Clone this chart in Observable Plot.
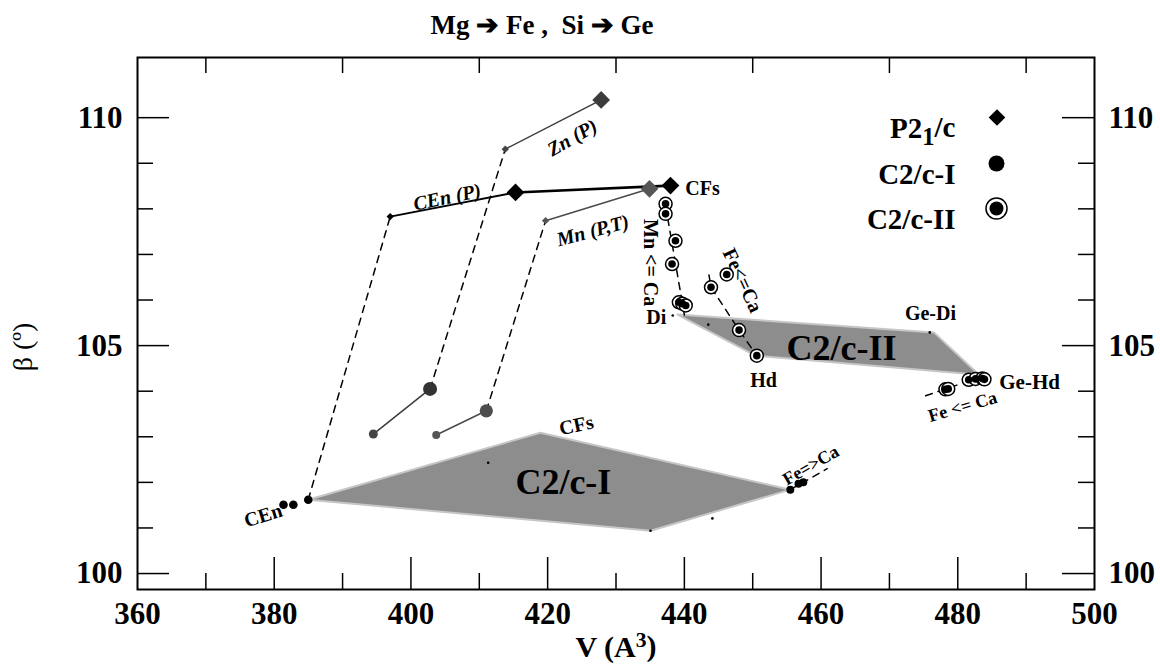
<!DOCTYPE html>
<html>
<head>
<meta charset="utf-8">
<script src="https://cdn.jsdelivr.net/npm/d3@7"></script>
<script src="https://cdn.jsdelivr.net/npm/@observablehq/plot@0.6"></script>
<style>
  html, body { margin: 0; padding: 0; background: #fff; }
  #title {
    width: 1084px; height: 45px; box-sizing: border-box; padding-top: 12px;
    text-align: center; white-space: pre;
    font: bold 27px "Liberation Serif", "Times New Roman", serif; line-height: 27px;
  }
</style>
</head>
<body>
<div id="title">Mg ➔ Fe ,  Si ➔ Ge</div>
<div id="chart"></div>
<script>
// ---- axes -------------------------------------------------------------
const xTicks = [360, 380, 400, 420, 440, 460, 480, 500];
const xMajor = [380, 400, 420, 440, 460, 480];
const xMinor = [370, 390, 410, 430, 450, 470, 490];
const yTicks = [100, 105, 110];
const yMinor = [101, 102, 103, 104, 106, 107, 108, 109];
const xTitle = "V (A³)";
const yTitle = "β (º)";

// ---- P2₁/c (diamonds): cell volume V (Å³) and β (°) ------------------
const cenPathV = [396.97, 415.3, 437.97];
const cenPathBeta = [107.83, 108.36, 108.51];
const znPathV = [413.8, 427.83];
const znPathBeta = [109.31, 110.39];
const mnPathV = [419.7, 434.9];
const mnPathBeta = [107.74, 108.44];

// ---- C2/c-I (filled circles) -------------------------------------------
const cenIV = [381.36, 382.8, 384.98];
const cenIBeta = [101.51, 101.51, 101.62];
const znIV = [394.5, 402.8];
const znIBeta = [103.06, 104.05];
const mnIV = [403.7, 411.03];
const mnIBeta = [103.04, 103.57];
const feIV = [455.5, 456.7, 457.4];
const feIBeta = [101.84, 101.97, 102.0];

// ---- C2/c-II (ringed circles) ------------------------------------------
const mnIIV = [437.25, 437.25, 438.7, 438.2, 439.2, 439.7, 440.2];
const mnIIBeta = [108.11, 107.89, 107.30, 106.79, 105.95, 105.92, 105.88];
const feIIV = [446.2, 443.9, 448.0, 450.6];
const feIIBeta = [106.56, 106.28, 105.34, 104.78];
const geHdV = [481.6, 482.6, 483.6, 483.9];
const geHdBeta = [104.25, 104.27, 104.28, 104.26];
const geFeV = [478.2, 478.6];
const geFeBeta = [104.04, 104.05];

// ---- composition trends (dashed) --------------------------------------
const mnTrendV = [437.25, 440.1];
const mnTrendBeta = [108.07, 105.59];
const feTrendV = [443.6, 443.9, 448.0, 450.6];
const feTrendBeta = [106.55, 106.28, 105.34, 104.78];
const geTrendV = [475.3, 480.0];
const geTrendBeta = [103.90, 104.14];
const feITrendV = [455.5, 460.9];
const feITrendBeta = [101.84, 102.30];

// ---- stability fields ----------------------------------------------------
const fieldIV = [384.98, 418.95, 455.5, 435.05];
const fieldIBeta = [101.62, 103.09, 101.84, 100.94];
const fieldIIV = [439.0, 476.5, 483.1, 450.4];
const fieldIIBeta = [105.68, 105.29, 104.36, 104.78];

// end-member reference points
const endV = [411.3, 444.1, 435.05, 438.3, 443.5, 475.9];
const endBeta = [102.43, 101.21, 100.94, 105.66, 105.46, 105.29];

// legend entries
const legendLabels = ["P2₁/c", "C2/c-I", "C2/c-II"];

// annotations: [text, V, β]
const notes = {
  cen:    ["CEn", 378.4, 101.27],
  cfsI:   ["CFs", 424.2, 103.25],
  fieldI: ["C2/c-I", 422.3, 102.0],
  feI:    ["Fe=>Ca", 458.5, 102.37],
  cenP:   ["CEn (P)", 405.3, 108.25],
  znP:    ["Zn (P)", 423.6, 109.56],
  mnP:    ["Mn (P,T)", 426.6, 107.52],
  cfsP:   ["CFs", 442.66, 108.44],
  mnCa:   ["Mn <= Ca", 435.05, 106.82],
  feCa:   ["Fe<=Ca", 448.5, 106.43],
  di:     ["Di", 435.9, 105.61],
  hd:     ["Hd", 451.6, 104.23],
  fieldII:["C2/c-II", 463.0, 104.93],
  geDi:   ["Ge-Di", 476.0, 105.70],
  geHd:   ["Ge-Hd", 490.5, 104.19],
  geFe:   ["Fe <= Ca", 480.7, 103.66]
};

// ---- helpers -------------------------------------------------------------
const pts = (V, B) => V.map((v, i) => ({V: v, beta: B[i]}));
const ring = (V, B) => { const p = pts(V, B); return [...p, p[0]]; };
const xy = {x: "V", y: "beta"};
const note = (key, opts = {}) =>
  Plot.text([notes[key]], {x: d => d[1], y: d => d[2], text: d => d[0],
    fontWeight: "bold", fontSize: 20, fill: "#000", ...opts});
const dash = {stroke: "#000", strokeWidth: 1.5, strokeDasharray: "7,6"};

const W = 1160, H = 623;
const mL = 137, mR = 66, mT = 12, mB = 79;
const frameW = W - mL - mR, frameH = H - mT - mB;

const cenP = pts(cenPathV, cenPathBeta);
const znP = pts(znPathV, znPathBeta);
const mnP = pts(mnPathV, mnPathBeta);
const cenI = pts(cenIV, cenIBeta);
const znI = pts(znIV, znIBeta);
const mnI = pts(mnIV, mnIBeta);
const ringII = (V, B) => [
  Plot.dot(pts(V, B), {...xy, r: 6.5, fill: "#fff", stroke: "#000", strokeWidth: 1.5}),
  Plot.dot(pts(V, B), {...xy, r: 3.8, fill: "#000"})
];
const tickFont = {fontSize: 31, fontWeight: "bold", label: null, tickSize: 0, tickFormat: d => String(d)};

const chart = Plot.plot({
  width: W, height: H,
  marginLeft: mL, marginRight: mR, marginTop: mT, marginBottom: mB,
  x: {domain: [360, 500]},
  y: {domain: [99.65, 111.32]},
  style: {fontFamily: "'Liberation Serif', 'Times New Roman', serif", background: "#fff", color: "#000", overflow: "visible"},
  marks: [
    // stability fields
    Plot.line(ring(fieldIV, fieldIBeta), {...xy, fill: "#8d8d8d", stroke: "#c6c6c6", strokeWidth: 2}),
    Plot.line(ring(fieldIIV, fieldIIBeta), {...xy, fill: "#8d8d8d", stroke: "#c6c6c6", strokeWidth: 2}),
    Plot.dot(pts(endV, endBeta), {...xy, r: 1.3, fill: "#000"}),

    // transition paths C2/c-I -> P2₁/c
    Plot.line([cenI[2], cenP[0]], {...xy, ...dash}),
    Plot.line([znI[1], znP[0]], {...xy, ...dash}),
    Plot.line([mnI[1], mnP[0]], {...xy, ...dash}),

    // composition trends
    Plot.line(pts(mnTrendV, mnTrendBeta), {...xy, ...dash}),
    Plot.line(pts(feTrendV, feTrendBeta), {...xy, ...dash}),
    Plot.line(pts(geTrendV, geTrendBeta), {...xy, ...dash}),
    Plot.line(pts(feITrendV, feITrendBeta), {...xy, ...dash}),

    // solid pressure paths
    Plot.line(cenP.slice(0, 2), {...xy, stroke: "#000", strokeWidth: 1.8}),
    Plot.line(cenP.slice(1), {...xy, stroke: "#000", strokeWidth: 2.6}),
    Plot.line(znP, {...xy, stroke: "#3c3c3c", strokeWidth: 1.5}),
    Plot.line(mnP, {...xy, stroke: "#4a4a4a", strokeWidth: 1.5}),
    Plot.line(znI, {...xy, stroke: "#3c3c3c", strokeWidth: 1.5}),
    Plot.line(mnI, {...xy, stroke: "#4a4a4a", strokeWidth: 1.5}),

    // P2₁/c diamonds
    Plot.dot(cenP.slice(0, 1), {...xy, symbol: "diamond2", r: 3.3, fill: "#000"}),
    Plot.dot(cenP.slice(1), {...xy, symbol: "diamond2", r: 8, fill: "#000"}),
    Plot.dot(znP.slice(0, 1), {...xy, symbol: "diamond2", r: 3.3, fill: "#444"}),
    Plot.dot(znP.slice(1), {...xy, symbol: "diamond2", r: 8, fill: "#3c3c3c"}),
    Plot.dot(mnP.slice(0, 1), {...xy, symbol: "diamond2", r: 3.3, fill: "#555"}),
    Plot.dot(mnP.slice(1), {...xy, symbol: "diamond2", r: 8, fill: "#555"}),

    // C2/c-I circles
    Plot.dot(cenI, {...xy, r: 4.3, fill: "#000"}),
    Plot.dot(znI.slice(0, 1), {...xy, r: 4.5, fill: "#444"}),
    Plot.dot(znI.slice(1), {...xy, r: 7, fill: "#333"}),
    Plot.dot(mnI.slice(0, 1), {...xy, r: 4, fill: "#555"}),
    Plot.dot(mnI.slice(1), {...xy, r: 6.6, fill: "#4d4d4d"}),
    Plot.dot(pts(feIV, feIBeta), {...xy, r: 4, fill: "#000"}),

    // C2/c-II ringed circles
    ...ringII(mnIIV, mnIIBeta),
    ...ringII(feIIV, feIIBeta),
    ...ringII(geHdV, geHdBeta),
    ...ringII(geFeV, geFeBeta),

    // annotations
    note("cen", {rotate: -17}),
    note("cfsI", {rotate: -12}),
    note("fieldI", {fontSize: 36}),
    note("feI", {rotate: -30, fontSize: 18}),
    note("cenP", {rotate: -12, fontStyle: "italic"}),
    note("znP", {rotate: -30, fontStyle: "italic"}),
    note("mnP", {rotate: -15, fontStyle: "italic"}),
    note("cfsP"),
    note("mnCa", {rotate: 90}),
    note("feCa", {rotate: 65}),
    note("di"),
    note("hd"),
    note("fieldII", {fontSize: 36}),
    note("geDi"),
    note("geHd", {fontSize: 21}),
    note("geFe", {rotate: -16, fontSize: 18}),

    // legend
    Plot.text([legendLabels[0]], {frameAnchor: "top-right", dx: -139, dy: 60, textAnchor: "end", fontSize: 29, fontWeight: "bold"}),
    Plot.text([legendLabels[1]], {frameAnchor: "top-right", dx: -139, dy: 106, textAnchor: "end", fontSize: 29, fontWeight: "bold"}),
    Plot.text([legendLabels[2]], {frameAnchor: "top-right", dx: -139, dy: 151, textAnchor: "end", fontSize: 29, fontWeight: "bold"}),
    Plot.dot([0], {frameAnchor: "top-right", dx: -97.5, dy: 60, symbol: "diamond2", r: 7.5, fill: "#000"}),
    Plot.dot([0], {frameAnchor: "top-right", dx: -98, dy: 106, r: 8, fill: "#000"}),
    Plot.dot([0], {frameAnchor: "top-right", dx: -98, dy: 151, r: 10.5, fill: "#fff", stroke: "#000", strokeWidth: 1.5}),
    Plot.dot([0], {frameAnchor: "top-right", dx: -98, dy: 151, r: 7, fill: "#000"}),

    // inward ticks
    Plot.tickX(xMajor, {x: d => d, insetTop: frameH - 32, strokeWidth: 1.5}),
    Plot.tickX(xMinor, {x: d => d, insetTop: frameH - 16, strokeWidth: 1.5}),
    Plot.tickX(xMinor, {x: d => d, insetBottom: frameH - 16, strokeWidth: 1.5}),
    Plot.tickY(yTicks, {y: d => d, insetRight: frameW - 32, strokeWidth: 1.5}),
    Plot.tickY(yMinor, {y: d => d, insetRight: frameW - 16, strokeWidth: 1.5}),
    Plot.tickY(yTicks, {y: d => d, insetLeft: frameW - 32, strokeWidth: 1.5}),
    Plot.tickY(yMinor, {y: d => d, insetLeft: frameW - 16, strokeWidth: 1.5}),

    // tick labels
    Plot.axisX(xTicks, {anchor: "bottom", tickPadding: 12, ...tickFont}),
    Plot.axisY(yTicks, {anchor: "left", tickPadding: 15, ...tickFont}),
    Plot.axisY(yTicks, {anchor: "right", tickPadding: 14, ...tickFont}),

    // x-axis title
    Plot.text([xTitle], {frameAnchor: "bottom", dy: 67, fontSize: 30, fontWeight: "bold"}),

    Plot.frame({stroke: "#000", strokeWidth: 2})
  ]
});

const svg = d3.select(chart);

// space-group subscript as a lowered digit
svg.selectAll("text")
  .filter(function () { return this.textContent === legendLabels[0]; })
  .each(function () {
    const t = d3.select(this).text(null);
    t.append("tspan").text("P2");
    t.append("tspan").attr("dy", "0.3em").attr("font-size", "0.85em").text("1");
    t.append("tspan").attr("dy", "-0.3em").text("/c");
  });

// volume unit with a raised exponent
svg.selectAll("text")
  .filter(function () { return this.textContent === xTitle; })
  .each(function () {
    const t = d3.select(this).text(null);
    t.append("tspan").text("V (A");
    t.append("tspan").attr("dy", "-0.42em").attr("font-size", "0.72em").text("3");
    t.append("tspan").attr("dy", "0.3em").text(")");
  });

// y-axis title, rotated along the left margin
svg.append("text")
  .attr("transform", `translate(${mL - 115},${mT + frameH / 2 + 24}) rotate(-90)`)
  .attr("text-anchor", "middle")
  .attr("dy", "0.35em")
  .attr("font-size", 28)
  .attr("fill", "#000")
  .text(yTitle);

document.getElementById("chart").appendChild(chart);
</script>
</body>
</html>
